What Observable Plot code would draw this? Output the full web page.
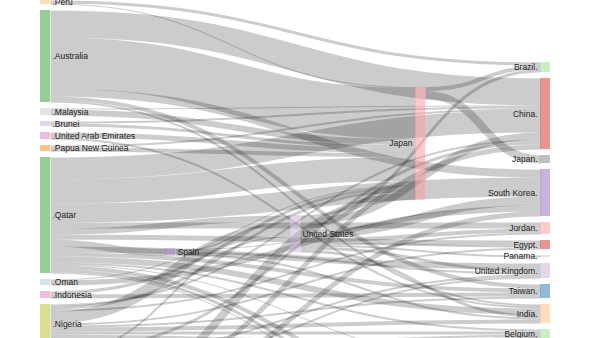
<!DOCTYPE html>
<html><head><meta charset="utf-8">
<script src="https://cdn.jsdelivr.net/npm/d3@7"></script>
<script src="https://cdn.jsdelivr.net/npm/@observablehq/plot@0.6"></script>
<style>body{margin:0;background:#fff;overflow:hidden}</style>
</head><body><div id="chart"></div>
<script>
// ---- nodes (column order is fixed by these lists) ----
const exporters = ["Peru","Australia","Malaysia","Brunei","United Arab Emirates","Papua New Guinea","Qatar","Oman","Indonesia","Nigeria","Trinidad and Tobago","Algeria","Russia","Norway","Angola","Equatorial Guinea","Cameroon"];
const hubIds = ["Spain","United States","Japan hub"];
const hubLabels = ["Spain","United States","Japan"];
const importers = ["Brazil","China","Japan","South Korea","Jordan","Egypt","Panama","United Kingdom","Taiwan","India","Belgium","France","Italy","Mexico","Turkey","Pakistan","Kuwait","Thailand","Argentina","Chile","Singapore"];

// ---- flows: [target, value] per source ----
const fromPeru = [["Brazil",3],["Japan hub",1]];
const fromAustralia = [["Japan hub",51],["China",27],["South Korea",8],["Taiwan",4],["India",2]];
const fromMalaysia = [["Japan hub",6],["China",1]];
const fromBrunei = [["Japan hub",3],["China",2]];
const fromUAE = [["Japan hub",5],["India",2]];
const fromPNG = [["Japan hub",4],["China",2]];
const fromQatar = [["Japan hub",24],["Spain",7],["United States",6],["China",22],["South Korea",19],["India",6],["United Kingdom",6],["Jordan",6],["Egypt",5],["Taiwan",4],["Belgium",2],["Pakistan",4],["Kuwait",3],["Thailand",1],["Italy",1]];
const fromOman = [["Japan hub",1],["South Korea",5]];
const fromIndonesia = [["Japan hub",3],["Taiwan",4]];
const fromNigeria = [["Japan hub",3],["United States",12],["India",4],["China",2],["France",4],["Turkey",2],["Egypt",2],["Jordan",2],["Belgium",3],["Italy",2],["Taiwan",2],["Mexico",2]];
const fromTrinidad = [["United States",2],["Mexico",3],["China",3],["United Kingdom",2],["Belgium",2],["Kuwait",2],["Argentina",4],["Chile",2]];
const fromAlgeria = [["United Kingdom",2],["France",7],["Italy",6],["Turkey",3]];
const fromRussia = [["Japan hub",8],["China",5],["South Korea",5],["Kuwait",1],["Thailand",2],["Singapore",4]];
const fromNorway = [["Belgium",2],["France",3],["Turkey",3]];
const fromAngola = [["Pakistan",2],["Thailand",2],["Singapore",2]];
const fromEqGuinea = [["Chile",3],["Singapore",2]];
const fromCameroon = [["Turkey",1],["Pakistan",2]];
const fromSpain = [["United States",2],["South Korea",1],["India",2],["United Kingdom",2]];
const fromUS = [["Japan hub",4],["Brazil",3],["China",7],["South Korea",9],["Jordan",4],["Egypt",2],["Panama",2],["United Kingdom",3],["India",3]];
const fromJapanHub = [["Brazil",4],["Japan",8]];

const flowTables = [
  ["Peru",fromPeru],["Australia",fromAustralia],["Malaysia",fromMalaysia],["Brunei",fromBrunei],
  ["United Arab Emirates",fromUAE],["Papua New Guinea",fromPNG],["Qatar",fromQatar],["Oman",fromOman],
  ["Indonesia",fromIndonesia],["Nigeria",fromNigeria],["Trinidad and Tobago",fromTrinidad],["Algeria",fromAlgeria],
  ["Russia",fromRussia],["Norway",fromNorway],["Angola",fromAngola],["Equatorial Guinea",fromEqGuinea],
  ["Cameroon",fromCameroon],["Spain",fromSpain],["United States",fromUS],["Japan hub",fromJapanHub]
];

// category20-style palette, one per node in node order
const palette = ["#ffbb78","#2ca02c","#c7c7c7","#c5b0d5","#e377c2","#ff7f0e","#2ca02c","#aec7e8","#e377c2","#bcbd22","#17becf","#8c564b","#d62728","#1f77b4","#9edae5","#dbdb8d","#c49c94",
  "#9467bd","#c5b0d5","#ff9896",
  "#98df8a","#d62728","#7f7f7f","#9467bd","#ff9896","#d62728","#f7b6d2","#c5b0d5","#1f77b4","#ffbb78","#98df8a","#aec7e8","#2ca02c","#ff7f0e","#8c564b","#e377c2","#7f7f7f","#bcbd22","#17becf","#c49c94","#dbdb8d"];

// ---- small sankey layout: sources stacked from the top, sinks stacked from the bottom,
//      intermediate nodes placed at the value-weighted barycenter of their links ----
function sankey(nodeIds, linkList, {x0, x1, y0, y1, nodeWidth, nodePadding, iterations}) {
  const nodes = nodeIds.map((id, index) => ({id, index, sourceLinks: [], targetLinks: []}));
  const byId = new Map(nodes.map(n => [n.id, n]));
  const links = linkList.map(([s, t, v], index) => ({source: byId.get(s), target: byId.get(t), value: v, index}));
  for (const l of links) { l.source.sourceLinks.push(l); l.target.targetLinks.push(l); }
  for (const n of nodes) n.value = Math.max(d3.sum(n.sourceLinks, l => l.value), d3.sum(n.targetLinks, l => l.value));
  let current = new Set(nodes), next = new Set(), x = 0;
  while (current.size) {
    for (const node of current) { node.depth = x; for (const {target} of node.sourceLinks) next.add(target); }
    ++x; current = next; next = new Set();
  }
  const n = x;
  const kx = (x1 - x0 - nodeWidth) / (n - 1);
  const columns = Array.from({length: n}, () => []);
  for (const node of nodes) {
    node.layer = node.sourceLinks.length ? node.depth : n - 1;
    node.x0 = x0 + node.layer * kx; node.x1 = node.x0 + nodeWidth;
    columns[node.layer].push(node);
  }
  const py = nodePadding;
  const ky = d3.min(columns, c => (y1 - y0 - (c.length - 1) * py) / d3.sum(c, d => d.value));
  for (const l of links) l.width = l.value * ky;
  columns.forEach((col, i) => {
    const total = d3.sum(col, d => d.value * ky) + (col.length - 1) * py;
    let y = i === 0 ? y0 : i === n - 1 ? y1 - total : (y0 + y1 - total) / 2;
    for (const node of col) { node.y0 = y; node.y1 = y + node.value * ky; y = node.y1 + py; }
  });
  const mid = d => (d.y0 + d.y1) / 2;
  function linkBreadths() {
    for (const node of nodes) {
      node.sourceLinks.sort((a, b) => mid(a.target) - mid(b.target) || a.index - b.index);
      node.targetLinks.sort((a, b) => mid(a.source) - mid(b.source) || a.index - b.index);
      let a = node.y0, b = node.y0;
      for (const l of node.sourceLinks) { l.y0 = a + l.width / 2; a += l.width; }
      for (const l of node.targetLinks) { l.y1 = b + l.width / 2; b += l.width; }
    }
  }
  for (let it = 0; it < iterations; ++it) {
    linkBreadths();
    for (let i = 1; i < n - 1; ++i) {
      for (const node of columns[i]) {
        let s = 0, w = 0;
        for (const l of node.targetLinks) { s += l.y0 * l.value; w += l.value; }
        for (const l of node.sourceLinks) { s += l.y1 * l.value; w += l.value; }
        const h = node.y1 - node.y0, c = s / w;
        node.y0 = c - h / 2; node.y1 = c + h / 2;
      }
      const col = columns[i].sort((a, b) => a.y0 - b.y0);
      let y = y0;
      for (const node of col) { const dy = y - node.y0; if (dy > 0) { node.y0 += dy; node.y1 += dy; } y = node.y1 + py; }
    }
  }
  linkBreadths();
  return {nodes, links};
}

const W = 600, H = 480;
const nodeIds = [...exporters, ...hubIds, ...importers];
const nodeLabels = [...exporters.map(d => "." + d), ...hubLabels, ...importers.map(d => d + ".")];
const linkList = flowTables.flatMap(([src, rows]) => rows.map(([t, v]) => [src, t, v]));
const {nodes, links} = sankey(nodeIds, linkList, {x0: 40, x1: 550, y0: 0, y1: 471, nodeWidth: 10, nodePadding: 6, iterations: 8});
nodes.forEach(d => d.label = nodeLabels[d.index]);

const chart = Plot.plot({
  width: W, height: H, margin: 0,
  x: {type: "identity", axis: null},
  y: {type: "identity", axis: null},
  color: {type: "ordinal", domain: nodeIds, range: palette},
  marks: [
    Plot.link(links, {x1: d => d.source.x1, y1: d => d.y0, x2: d => d.target.x0, y2: d => d.y1,
      curve: "bump-x", stroke: "#000", strokeOpacity: 0.2, strokeWidth: d => Math.max(1, d.width)}),
    Plot.rect(nodes, {x1: "x0", x2: "x1", y1: "y0", y2: "y1", fill: "id", fillOpacity: 0.5}),
    Plot.text(nodes.filter(d => d.x0 < W / 2), {x: d => d.x1, y: d => (d.y0 + d.y1) / 2, text: "label",
      textAnchor: "start", dx: 2, fontSize: 8.5, fontFamily: "Liberation Sans, Arial, sans-serif", fill: "#222"}),
    Plot.text(nodes.filter(d => d.x0 >= W / 2), {x: d => d.x0, y: d => (d.y0 + d.y1) / 2, text: "label",
      textAnchor: "end", dx: -3, fontSize: 8.5, fontFamily: "Liberation Sans, Arial, sans-serif", fill: "#222"})
  ]
});
document.getElementById("chart").append(chart);
</script>
</body></html>
